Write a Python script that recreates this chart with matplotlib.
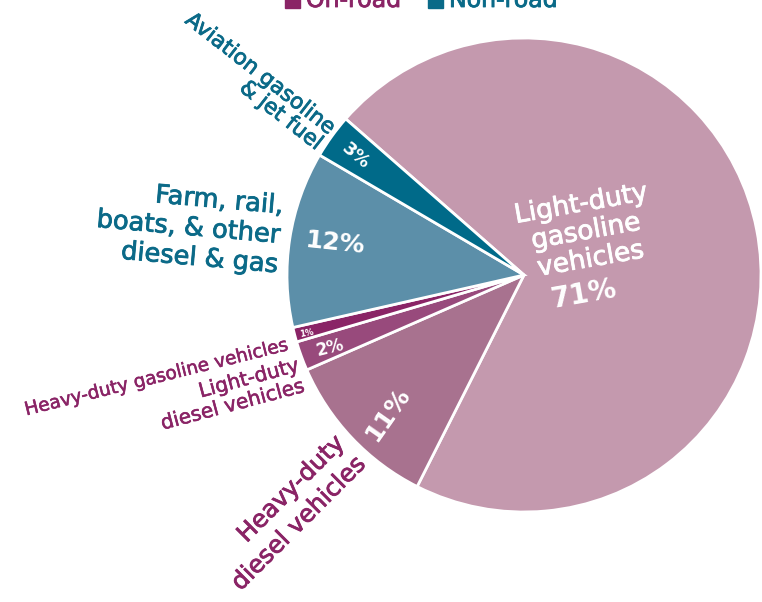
import matplotlib.pyplot as plt
import matplotlib.patheffects as pe
import numpy as np

# Share of transportation energy use
labels = ['Light-duty gasoline vehicles', 'Heavy-duty diesel vehicles',
          'Light-duty diesel vehicles', 'Heavy-duty gasoline vehicles',
          'Farm, rail, boats, & other diesel & gas', 'Aviation gasoline & jet fuel']
shares = [71, 11, 2, 1, 12, 3]
colors = ['#c499ae', '#a8728f', '#984a7c', '#8a2466', '#5c8fa9', '#006a89']
legend_names = ['On-road', 'Non-road']
legend_colors = ['#8a2466', '#0a6a88']

PURPLE = '#8a2466'
TEAL = '#0b6a88'
plt.rcParams['font.family'] = ['DejaVu Sans']

W, H = 762, 602
fig = plt.figure(figsize=(W / 100, H / 100), dpi=100)

cx, cy, r = 524, 275, 237
ax = fig.add_axes([(cx - r) / W, 1 - (cy + r) / H, 2 * r / W, 2 * r / H])
ax.pie(shares, colors=colors, startangle=138.8, counterclock=False, radius=1,
       wedgeprops=dict(edgecolor='white', linewidth=2))
ax.set_xlim(-1, 1)
ax.set_ylim(-1, 1)
ax.set_aspect('equal')
ax.axis('off')


def px(x, y):
    return x / W, 1 - y / H


def label(x, y, s, size, color, rot=0, weight='normal', ha='center', ma=None, ls=1.0,
          stroke=0.6):
    # thin outline in the text colour to get a medium weight
    effects = [pe.withStroke(linewidth=stroke, foreground=color)] if weight == 'normal' else None
    fig.text(*px(x, y), s, fontsize=size, color=color, rotation=rot,
             ha=ha, va='center', fontweight=weight, rotation_mode='anchor',
             linespacing=ls, multialignment=ma or ha, path_effects=effects)


# labels inside the pie
label(586, 232, 'Light-duty\ngasoline\nvehicles', 19, 'white', rot=10, ls=1.1)
label(583, 294, f'{shares[0]}%', 20, 'white', rot=10, weight='bold')
label(388, 414, f'{shares[1]}%', 18, 'white', rot=55, weight='bold')
label(330, 348, f'{shares[2]}%', 12, 'white', rot=14, weight='bold')
label(307, 333, f'{shares[3]}%', 6, 'white', rot=10, weight='bold')
label(335, 243, f'{shares[4]}%', 18, 'white', rot=-6, weight='bold')
label(356, 156, f'{shares[5]}%', 13, 'white', rot=-40, weight='bold')

# labels outside the pie
label(281, 236, 'Farm, rail,\nboats, & other\ndiesel & gas', 18.5, TEAL,
      rot=-5, ha='right', ls=1.18)
label(326, 138, 'Aviation gasoline\n& jet fuel', 15.5, TEAL, rot=-38,
      ha='right', ls=1.0)
label(288, 345, 'Heavy-duty gasoline vehicles', 13.3, PURPLE, rot=14, ha='right',
      stroke=0.4)
label(230, 395, 'Light-duty\ndiesel vehicles', 14.5, PURPLE, rot=15, ma='right', ls=1.15,
      stroke=0.4)
label(288, 513, 'Heavy-duty\ndiesel vehicles', 17.5, PURPLE, rot=45, ma='right', ls=1.3)

# legend cut off at the top
for (x0, name, c) in zip([285, 428], legend_names, legend_colors):
    fig.patches.append(plt.Rectangle(px(x0, 8), 15 / W, 15 / H, color=c,
                                     transform=fig.transFigure, figure=fig))
    fig.text(*px(x0 + 21, 0), name, fontsize=17, color=c, ha='left', va='center',
             path_effects=[pe.withStroke(linewidth=0.6, foreground=c)])

fig.savefig('out.png', dpi=100)
